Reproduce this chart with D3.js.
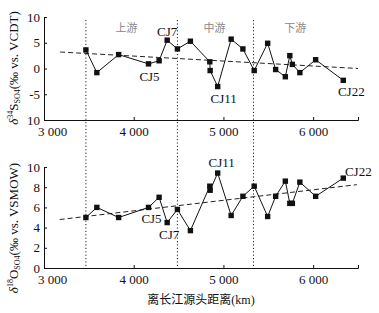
<!DOCTYPE html>
<html>
<head>
<meta charset="utf-8">
<script src="https://cdn.jsdelivr.net/npm/d3@7"></script>
<style>
  body { margin: 0; background: #fff; }
  svg text { font-family: "Liberation Serif", "DejaVu Serif", serif; }
</style>
</head>
<body>
<div id="chart"></div>
<script>
// distance from Yangtze source (km), shared by both panels
const dist = [3467, 3589, 3832, 4165, 4283, 4373, 4487, 4632, 4848, 4852, 4936,
  5086, 5217, 5343, 5493, 5582, 5690, 5740, 5768, 5852, 6028, 6336];
const s34 = [3.6, -0.8, 2.7, 0.9, 1.5, 5.5, 3.8, 5.3, 1.3, -0.4, -3.5,
  5.7, 3.8, -0.4, 4.9, -0.2, -1.6, 2.5, 0.8, -0.8, 1.7, -2.3];
const o18 = [5.0, 6.0, 5.0, 6.0, 7.0, 4.5, 5.8, 3.7, 8.1, 7.7, 9.4,
  5.2, 7.1, 8.1, 5.1, 7.1, 8.6, 6.4, 6.4, 8.5, 7.1, 8.9];

// trend lines [x, y]
const trendS = [[3180, 3.2], [6500, 0.0]];
const trendO = [[3175, 4.8], [6487, 8.25]];

// section boundaries and names
const bounds = [3467, 4487, 5335];
const sections = [{ name: "上游", x: 3920 }, { name: "中游", x: 4900 }, { name: "下游", x: 5800 }];

const xTicks = [3000, 4000, 5000, 6000];
const sTicks = [-10, -5, 0, 5, 10];
const sTickLabels = ["10", "-5", "0", "5", "10"];
const oTicks = [0, 2, 4, 6, 8, 10];

const sLabels = [{ t: "CJ5", i: 3 }, { t: "CJ7", i: 5 }, { t: "CJ11", i: 10 }, { t: "CJ22", i: 21 }];
const oLabels = [{ t: "CJ5", i: 3 }, { t: "CJ7", i: 5 }, { t: "CJ11", i: 10 }, { t: "CJ22", i: 21 }];

const W = 379, H = 313;
const svg = d3.select("#chart").append("svg")
  .attr("width", W).attr("height", H);

const x = d3.scaleLinear().domain([3000, 6500]).range([44, 358]);
const yS = d3.scaleLinear().domain([-10, 10]).range([120, 17]);
const yO = d3.scaleLinear().domain([0, 10]).range([268, 167]);

const fmtX = d => d3.format(",")(d).replace(",", " ");

// section dotted lines
svg.selectAll(".bound").data(bounds).enter().append("line")
  .attr("x1", d => x(d)).attr("x2", d => x(d))
  .attr("y1", 20).attr("y2", 268)
  .attr("stroke", "#222").attr("stroke-width", 1)
  .attr("stroke-dasharray", "1.2,2.2");

svg.selectAll(".sec").data(sections).enter().append("text")
  .attr("x", d => x(d.x)).attr("y", 32)
  .attr("text-anchor", "middle")
  .style("font-family", "'Noto Sans CJK SC'")
  .style("font-size", "11px")
  .style("fill", "#888")
  .text(d => d.name);

function panel(yScale, vals, ticks, tickLabels, trend, labels, offsets) {
  const g = svg.append("g");
  const bottom = yScale.range()[0];

  const xa = g.append("g")
    .attr("transform", `translate(0,${bottom})`)
    .call(d3.axisBottom(x).tickValues(xTicks).tickFormat(fmtX)
      .tickSize(-3).tickSizeOuter(-3).tickPadding(7));
  xa.selectAll("text").style("font-size", "13px").attr("fill", "#111");
  // first label sits a bit right of the corner, as in the source figure
  xa.selectAll(".tick text").filter(d => d === xTicks[0]).attr("dx", 8);

  const ya = g.append("g")
    .attr("transform", `translate(${x.range()[0]},0)`)
    .call(d3.axisLeft(yScale).tickValues(ticks)
      .tickFormat((d, i) => tickLabels ? tickLabels[i] : d)
      .tickSize(-3).tickSizeOuter(-3).tickPadding(4));
  ya.selectAll("text").style("font-size", "13px").attr("fill", "#111");
  g.selectAll(".domain, .tick line").attr("stroke", "#111");

  g.append("path")
    .datum(trend)
    .attr("fill", "none").attr("stroke", "#222").attr("stroke-width", 1)
    .attr("stroke-dasharray", "5,3")
    .attr("d", d3.line().x(d => x(d[0])).y(d => yScale(d[1])));

  const pts = dist.map((d, i) => [d, vals[i]]);
  g.append("path")
    .datum(pts)
    .attr("fill", "none").attr("stroke", "#111").attr("stroke-width", 1)
    .attr("d", d3.line().x(d => x(d[0])).y(d => yScale(d[1])));

  g.selectAll(".pt").data(pts).enter().append("rect")
    .attr("x", d => x(d[0]) - 2.7).attr("y", d => yScale(d[1]) - 2.7)
    .attr("width", 5.4).attr("height", 5.4)
    .attr("fill", "#111");

  g.selectAll(".lab").data(labels).enter().append("text")
    .attr("x", (d, k) => x(dist[d.i]) + offsets[k][0])
    .attr("y", (d, k) => yScale(vals[d.i]) + offsets[k][1])
    .attr("text-anchor", "middle")
    .style("font-size", "13px")
    .attr("fill", "#111")
    .text(d => d.t);
}

panel(yS, s34, sTicks, sTickLabels, trendS, sLabels,
  [[1, 17], [0, -4], [6, 16], [8, 16]]);
panel(yO, o18, oTicks, null, trendO, oLabels,
  [[3, 16], [2, 16], [4, -6], [15, -2]]);

// y axis titles
function yTitle(cy, sup, el, sub, rest) {
  const t = svg.append("text")
    .attr("transform", `translate(18,${cy}) rotate(-90)`)
    .attr("text-anchor", "middle")
    .style("font-size", "13px")
    .attr("fill", "#111");
  t.append("tspan").style("font-style", "italic").text("δ");
  t.append("tspan").attr("dy", -5).style("font-size", "8px").text(sup);
  t.append("tspan").attr("dy", 5).text(el);
  t.append("tspan").attr("dy", 2).style("font-size", "8px").text(sub);
  t.append("tspan").attr("dy", -2).text(rest);
}
yTitle(68, "34", "S", "SO4", "(‰  vs.  VCDT)");
yTitle(228, "18", "O", "SO4", "(‰  vs.  VSMOW)");

svg.append("text")
  .attr("x", 201).attr("y", 304)
  .attr("text-anchor", "middle")
  .style("font-size", "12px")
  .attr("fill", "#111")
  .html('<tspan style="font-family:\'Noto Sans CJK SC\'">离长江源头距离</tspan>(km)');
</script>
</body>
</html>
